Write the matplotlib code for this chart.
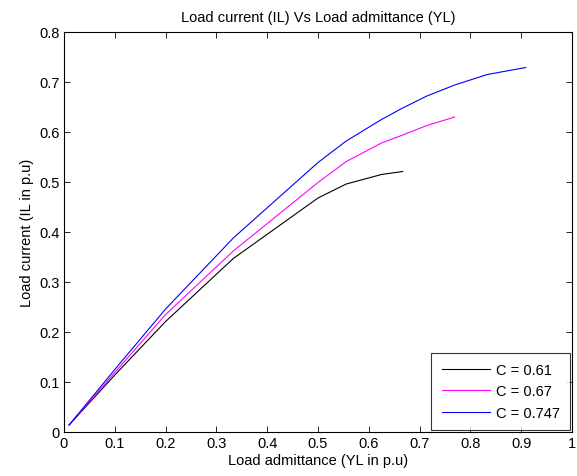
import matplotlib
matplotlib.use('Agg')
import matplotlib.pyplot as plt
import numpy as np

plt.rcParams['font.family'] = ['Liberation Sans', 'DejaVu Sans']

# load admittance (YL in p.u)
yl = [0.01, 0.1, 0.2, 0.3333, 0.5, 0.5556, 0.625, 0.6667, 0.7143, 0.7692, 0.8333, 0.9091]

# load current (IL in p.u) for each C
il_061 = [0.014, 0.114, 0.221, 0.347, 0.468, 0.496, 0.515, 0.521]
il_067 = [0.014, 0.119, 0.235, 0.362, 0.499, 0.541, 0.578, 0.594, 0.613, 0.630]
il_0747 = [0.014, 0.125, 0.246, 0.388, 0.539, 0.582, 0.625, 0.648, 0.672, 0.694, 0.715, 0.729]

labels = ['C = 0.61', 'C = 0.67', 'C = 0.747']

fs = 10.5

fig = plt.figure(figsize=(5.77, 4.77), dpi=100)
ax = fig.add_axes([64 / 577, 44 / 477, 508 / 577, 400 / 477])

ax.plot(yl[:len(il_061)], il_061, color='black', lw=0.8, label=labels[0])
ax.plot(yl[:len(il_067)], il_067, color='#ff00ff', lw=0.8, label=labels[1])
ax.plot(yl[:len(il_0747)], il_0747, color='#0000ff', lw=0.8, label=labels[2])

ax.set_xlim(0, 1)
ax.set_ylim(0, 0.8)
ax.set_xticks(np.arange(0, 1.01, 0.1))
ax.set_xticklabels(['0', '0.1', '0.2', '0.3', '0.4', '0.5', '0.6', '0.7', '0.8', '0.9', '1'])
ax.set_yticks(np.arange(0, 0.81, 0.1))
ax.set_yticklabels(['0', '0.1', '0.2', '0.3', '0.4', '0.5', '0.6', '0.7', '0.8'])
ax.tick_params(direction='in', top=True, right=True, length=4, width=0.6,
               labelsize=fs, pad=3)
for s in ax.spines.values():
    s.set_linewidth(0.8)

ax.set_xlabel('Load admittance (YL in p.u)', fontsize=fs, labelpad=2)
ax.set_ylabel('Load current (IL in p.u)', fontsize=fs, labelpad=4)
ax.set_title('Load current (IL) Vs Load admittance (YL)', fontsize=fs, pad=8)

leg = ax.legend(loc='lower right', fontsize=fs, frameon=True, fancybox=False,
                borderaxespad=0.15, handlelength=3.3, handletextpad=0.4,
                edgecolor='black', borderpad=0.7, labelspacing=0.5)
leg.get_frame().set_linewidth(0.8)

fig.savefig('out.png', dpi=100)
